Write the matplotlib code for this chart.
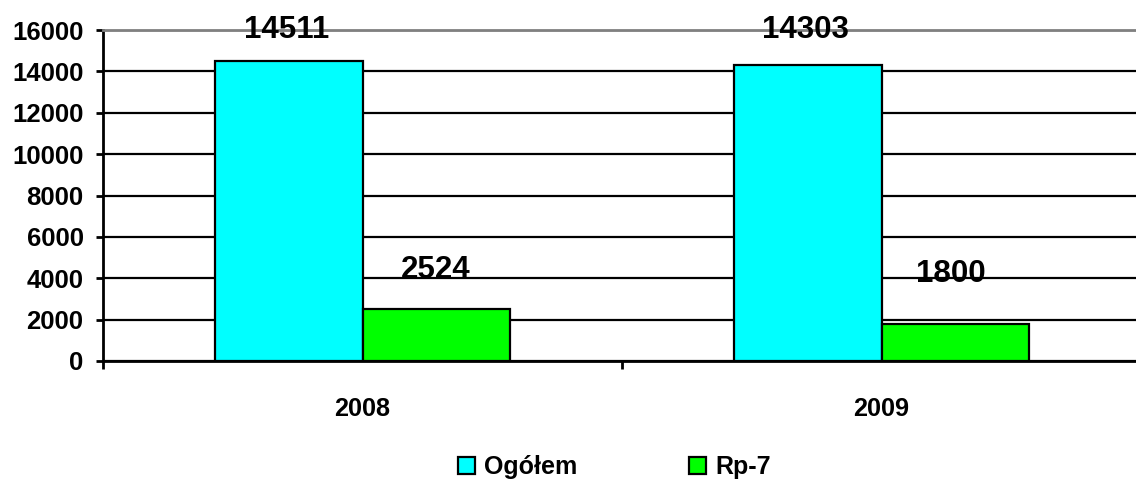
import matplotlib
matplotlib.use('Agg')
import numpy as np
import matplotlib.pyplot as plt

# data
years = ['2008', '2009']
ogolem = [14511, 14303]
rp7 = [2524, 1800]
series_names = ['Ogółem', 'Rp-7']
y_ticks = [0, 2000, 4000, 6000, 8000, 10000, 12000, 14000, 16000]


def plot():
    plt.rcParams['font.family'] = ['Liberation Sans', 'DejaVu Sans']
    plt.rcParams['font.weight'] = 'bold'

    fig = plt.figure(figsize=(11.36, 4.8), dpi=100)
    # plot area runs a little past the right edge of the picture
    ax = fig.add_axes([103 / 1136, 1 - 361 / 480, 1038 / 1136, 331 / 480])

    x = np.arange(len(years))
    w = 0.285
    colors = ['#00FFFF', '#00FF00']
    b1 = ax.bar(x - w / 2, ogolem, w, color=colors[0], edgecolor='black', linewidth=1.6, zorder=3)
    b2 = ax.bar(x + w / 2, rp7, w, color=colors[1], edgecolor='black', linewidth=1.6, zorder=3)

    # value labels (offsets in pixels above bar tops, as placed in the original)
    offsets = [[(-2, 23), (-2, 27)], [(-1, 31), (-5, 42)]]
    for bars, offs in zip([b1, b2], offsets):
        for bar, (dx, dy) in zip(bars, offs):
            h = bar.get_height()
            ax.annotate(f'{h:.0f}', (bar.get_x() + bar.get_width() / 2, h),
                        xytext=(dx, dy), textcoords='offset pixels',
                        ha='center', va='baseline', fontsize=22.5,
                        fontweight='bold', zorder=5, annotation_clip=False)

    ax.set_ylim(0, 16000)
    ax.set_xlim(-0.5, len(years) - 0.5)
    ax.set_yticks(y_ticks)
    ax.set_yticklabels([str(t) for t in y_ticks], fontsize=18.5, fontweight='bold')
    ax.yaxis.grid(True, color='black', linewidth=1.6, zorder=1)
    ax.set_axisbelow(True)

    # category labels centered, ticks at the boundaries
    ax.set_xticks(x)
    ax.set_xticklabels(years, fontsize=18.2, fontweight='bold')
    ax.tick_params(axis='x', which='major', length=0, pad=26)
    ax.set_xticks(np.arange(len(years) + 1) - 0.5, minor=True)
    ax.tick_params(axis='x', which='minor', length=6, width=2, direction='out')
    ax.tick_params(axis='y', length=5, width=2, pad=9)

    ax.spines['right'].set_visible(False)
    ax.spines['top'].set_color('#808080')
    ax.spines['top'].set_linewidth(2)
    ax.spines['left'].set_linewidth(2)
    ax.spines['bottom'].set_linewidth(2)
    ax.spines['top'].set_zorder(4)

    fig.legend([b1, b2], series_names, loc='center', bbox_to_anchor=(614.5 / 1136, 1 - 467 / 480),
               ncol=2, frameon=False, prop={'size': 18, 'weight': 'bold'},
               handlelength=0.7, handleheight=0.7, handletextpad=0.37,
               columnspacing=4.45)

    fig.savefig('out.png', dpi=100)


if __name__ == '__main__':
    plot()
